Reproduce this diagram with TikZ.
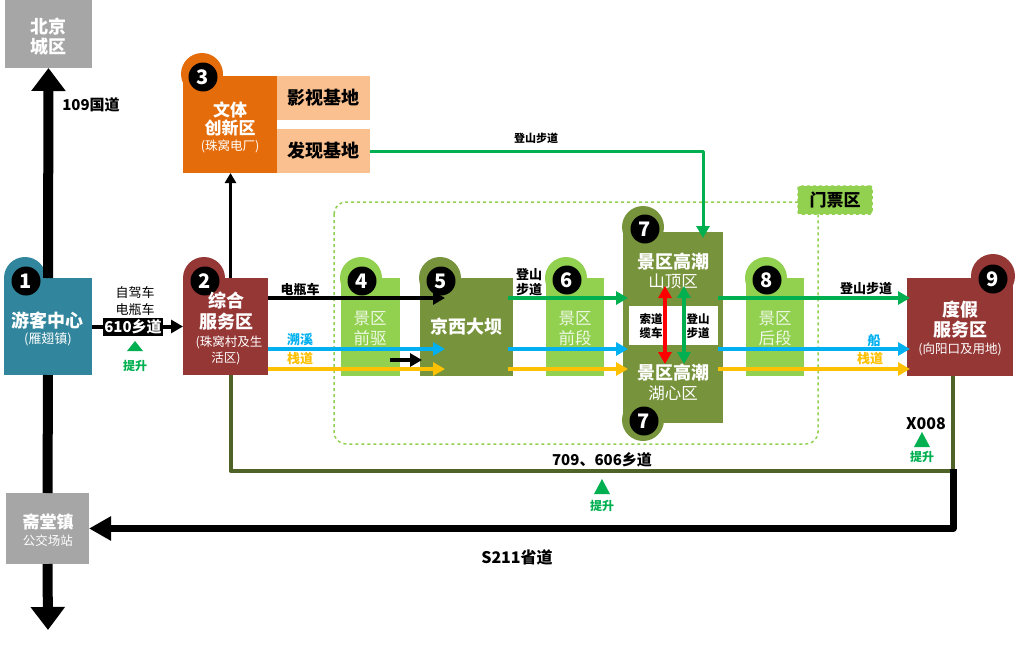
\documentclass[tikz,border=0pt]{standalone}
\usepackage{fontspec}
\setmainfont{Noto Sans CJK SC}
\usetikzlibrary{arrows.meta}
\definecolor{qteal}{HTML}{31859C}
\definecolor{qred}{HTML}{953735}
\definecolor{qorange}{HTML}{E46C0A}
\definecolor{qpeach}{HTML}{FAC090}
\definecolor{qlime}{HTML}{92D050}
\definecolor{qolive}{HTML}{77933C}
\definecolor{qdark}{HTML}{4F6228}
\definecolor{qgray}{HTML}{A6A6A6}
\definecolor{qgreen}{HTML}{00B050}
\definecolor{qblue}{HTML}{00B0F0}
\definecolor{qyellow}{HTML}{FFC000}
\begin{document}
\begin{tikzpicture}[x=1pt,y=-1pt, line join=round,
  box/.style={inner sep=0, outer sep=0},
  tt/.style={text=white, font=\bfseries\fontsize{18}{18}\selectfont},
  ts/.style={text=white, font=\fontsize{12.5}{13}\selectfont},
  tl/.style={text=white!85!qlime, font=\fontsize{16.5}{17}\selectfont},
  num/.style={circle, fill=black, text=white, inner sep=0, minimum size=29pt, font=\bfseries\fontsize{20}{20}\selectfont},
  lbl/.style={font=\bfseries\fontsize{13}{13}\selectfont},
  road/.style={line width=10pt, -{Triangle[width=33pt,length=23pt]}},
  lane/.style={line width=3.5pt, -{Triangle[width=13pt,length=12pt]}},
  up/.style={fill=qgreen}]
\useasboundingbox (0,0) rectangle (1020,656);
\def\tr{8}
% ticket zone
\draw[qlime, dashed, line width=1.5pt, rounded corners=12pt] (334,202) rectangle (818,444);
\node[box, fill=qlime, draw=qlime, dashed, line width=1.5pt, rounded corners=2pt, minimum width=74pt, minimum height=28pt, font=\bfseries\fontsize{17}{17}\selectfont] (mp) at (835,200) {门票区};

% tabs
\fill[qteal] (25,278) circle (21pt);
\fill[qred] (204,278) circle (21pt);
\fill[qorange] (202,74) circle (21pt);
\fill[qlime] (361,278) circle (21pt);
\fill[qolive] (440,278) circle (21pt);
\fill[qlime] (566,278) circle (21pt);
\fill[qolive] (643,227) circle (21pt) (643,420) circle (21pt);
\fill[qlime] (766,278) circle (21pt);
\fill[qred] (993,276) circle (22pt);

% boxes
\node[box, fill=qgray, minimum width=87pt, minimum height=68pt] (bj) at (48.5,34) {};
\node[box, fill=qgray, minimum width=83pt, minimum height=71pt] (zt) at (47.5,528.5) {};
\node[box, fill=qteal, minimum width=88pt, minimum height=97pt] (c1) at (48,326.5) {};
\node[box, fill=qred, minimum width=85pt, minimum height=97pt] (c2) at (225.5,326.5) {};
\node[box, fill=qorange, minimum width=94pt, minimum height=97pt] (c3) at (230,124.5) {};
\node[box, fill=qpeach, minimum width=93pt, minimum height=44pt, font=\bfseries\fontsize{18}{18}\selectfont] (ys) at (323.5,98) {影视基地};
\node[box, fill=qpeach, minimum width=93pt, minimum height=44pt, font=\bfseries\fontsize{18}{18}\selectfont] (fx) at (323.5,151) {发现基地};
\node[box, fill=qlime, minimum width=59pt, minimum height=98pt] (c4) at (370.5,327) {};
\node[box, fill=qolive, minimum width=93pt, minimum height=98pt] (c5) at (466.5,327) {};
\node[box, fill=qlime, minimum width=58pt, minimum height=98pt] (c6) at (575,327) {};
\node[box, fill=qolive, minimum width=100pt, minimum height=191pt] (c7) at (673,327.5) {};
\node[box, fill=white, minimum width=89pt, minimum height=39pt] (wb) at (673.5,325.5) {};
\node[box, fill=qlime, minimum width=58pt, minimum height=98pt] (c8) at (775,327) {};
\node[box, fill=qred, minimum width=106pt, minimum height=98pt] (c9) at (960,327) {};

% numbers
\node[num] (n1) at (26,281) {1};
\node[num] (n2) at (205,281) {2};
\node[num] (n3) at (203,77) {3};
\node[num] (n4) at (362,281) {4};
\node[num] (n5) at (441,281) {5};
\node[num] (n6) at (567,280) {6};
\node[num] (n7) at (645,229) {7};
\node[num] (n7b) at (644,421) {7};
\node[num] (n8) at (767,280) {8};
\node[num] (n9) at (993,279) {9};

% texts
\node[tt] (bj1) at (48,27) {北京};
\node[tt] (bj2) at (48,47) {城区};
\node[tt, font=\bfseries\fontsize{17}{17}\selectfont] (zt1) at (48,522) {斋堂镇};
\node[ts] (zt2) at (48,541) {公交场站};
\node[tt] (t1a) at (48,321) {游客中心};
\node[ts, font=\fontsize{13}{13}\selectfont] (t1b) at (48,339) {(雁翅镇)};
\node[tt] (t2a) at (226,301) {综合};
\node[tt] (t2b) at (226,322) {服务区};
\node[ts] (t2c) at (229,342) {(珠窝村及生};
\node[ts] (t2d) at (226,358) {活区)};
\node[tt, font=\bfseries\fontsize{17}{17}\selectfont] (t3a) at (230,110) {文体};
\node[tt, font=\bfseries\fontsize{17}{17}\selectfont] (t3b) at (230,128) {创新区};
\node[ts] (t3c) at (230,146) {(珠窝电厂)};
\node[tl] (t4a) at (370,319) {景区};
\node[tl] (t4b) at (370,338) {前驱};
\node[tt] (t5) at (466,327) {京西大坝};
\node[tl] (t6a) at (575,319) {景区};
\node[tl] (t6b) at (575,338) {前段};
\node[tt] (t7a) at (673,262) {景区高潮};
\node[ts, font=\fontsize{16.5}{17}\selectfont] (t7b) at (673,281) {山顶区};
\node[tt] (t7c) at (673,373) {景区高潮};
\node[ts, font=\fontsize{16.5}{17}\selectfont] (t7d) at (673,393) {湖心区};
\node[lbl, font=\bfseries\fontsize{11.5}{12}\selectfont] (w1) at (651,319) {索道};
\node[lbl, font=\bfseries\fontsize{11.5}{12}\selectfont] (w2) at (651,333) {缆车};
\node[lbl, font=\bfseries\fontsize{11.5}{12}\selectfont] (w3) at (698,319) {登山};
\node[lbl, font=\bfseries\fontsize{11.5}{12}\selectfont] (w4) at (698,333) {步道};
\node[tl] (t8a) at (775,319) {景区};
\node[tl] (t8b) at (775,338) {后段};
\node[tt] (t9a) at (960,310) {度假};
\node[tt] (t9b) at (960,330) {服务区};
\node[ts] (t9c) at (960,349) {(向阳口及用地)};

% roads
\coordinate (sd) at (48,630);
\coordinate (k2) at (953,471);
\draw[road] (c1.north) -- (bj.south);
\draw[line width=10pt] (c1.south) -- (zt.north);
\draw[road] (zt.south) -- (sd);
\draw[qdark, line width=4pt] ([xshift=5pt]c2.south) |- (k2) -- ([xshift=-7pt]c9.south);
\draw[line width=7pt, -{Triangle[width=23pt,length=22pt]}] ([yshift=2pt]k2) |- (zt.east);
\draw[line width=4pt, -{Triangle[width=13pt,length=12pt]}] (c1.east) -- (c2.west);
\draw[line width=2.5pt, -{Triangle[width=11pt,length=10pt]}] ([xshift=5pt]c2.north) -- ([xshift=5pt]c2.north |- c3.south);
\node[fill=black, text=white, inner sep=1.5pt, font=\bfseries\fontsize{15}{15}\selectfont] (r610) at (133,327) {610乡道};
\node[font=\bfseries\fontsize{15}{15}\selectfont] (r109) at (91,105) {109国道};
\node[font=\fontsize{13}{13}\selectfont] (zj) at (135,293) {自驾车};
\node[font=\fontsize{13}{13}\selectfont] (dp) at (135,310) {电瓶车};
\node[font=\bfseries\fontsize{15}{15}\selectfont] (r709) at (602,460) {709、606乡道};
\node[font=\bfseries\fontsize{16}{16}\selectfont] (rx) at (926,424) {X008};
\node[font=\bfseries\fontsize{16}{16}\selectfont] (rs) at (517,557) {S211省道};

% upgrades
\fill[up] (135,341) -- (135-\tr,351) -- (135+\tr,351) -- cycle;
\fill[up] (602,479) -- (602-\tr,494) -- (602+\tr,494) -- cycle;
\fill[up] (922,432) -- (922-\tr,447) -- (922+\tr,447) -- cycle;
\node[lbl, text=qgreen, font=\bfseries\fontsize{12}{12}\selectfont] (ts1) at (135,366) {提升};
\node[lbl, text=qgreen, font=\bfseries\fontsize{12}{12}\selectfont] (ts2) at (602,506) {提升};
\node[lbl, text=qgreen, font=\bfseries\fontsize{12}{12}\selectfont] (ts3) at (922,457) {提升};

% lanes
\coordinate (e5a) at (445,298);
\coordinate (e5b) at (445,349);
\coordinate (e5c) at (445,369);
\coordinate (sa) at (390,360);
\coordinate (e7a) at (628,298);
\coordinate (e7b) at (628,349);
\coordinate (e7c) at (628,369);
\coordinate (e9a) at (910,298);
\coordinate (e9b) at (910,349);
\coordinate (e9c) at (910,369);
\draw[lane, black] (c2.east |- e5a) -- (e5a);
\draw[lane, qblue] (c2.east |- e5b) -- (e5b);
\draw[lane, qyellow] (c2.east |- e5c) -- (e5c);
\draw[lane, black] (sa) -- ([xshift=2pt]c5.west |- sa);
\draw[lane, qgreen] ([xshift=-5pt]c5.east |- e7a) -- (e7a);
\draw[lane, qblue] ([xshift=-5pt]c5.east |- e7b) -- (e7b);
\draw[lane, qyellow] ([xshift=-5pt]c5.east |- e7c) -- (e7c);
\draw[lane, qgreen] ([xshift=-5pt]c7.east |- e9a) -- (e9a);
\draw[lane, qblue] ([xshift=-5pt]c7.east |- e9b) -- (e9b);
\draw[lane, qyellow] ([xshift=-5pt]c7.east |- e9c) -- (e9c);
\draw[lane, qgreen, line width=3pt] (fx.east) -| ([xshift=30pt,yshift=-6pt]c7.north);
\coordinate (u1) at (665,286);
\coordinate (u2) at (665,364);
\coordinate (v1) at (684,286);
\coordinate (v2) at (684,364);
\draw[red, line width=3.5pt, {Triangle[width=13pt,length=12pt]}-{Triangle[width=13pt,length=12pt]}] (u1) -- (u2);
\draw[qgreen, line width=3.5pt, {Triangle[width=13pt,length=12pt]}-{Triangle[width=13pt,length=12pt]}] (v1) -- (v2);

% lane labels
\node[lbl] (l1) at (300,289) {电瓶车};
\node[lbl, text=qblue] (l2) at (300,340) {溯溪};
\node[lbl, text=qyellow] (l3) at (300,359) {栈道};
\node[lbl] (l4) at (529,275) {登山};
\node[lbl] (l5) at (529,290) {步道};
\node[lbl] (l6) at (866,289) {登山步道};
\node[lbl, text=qblue] (l7) at (874,341) {船};
\node[lbl, text=qyellow] (l8) at (870,359) {栈道};
\node[lbl, font=\bfseries\fontsize{11}{11}\selectfont] (l9) at (536,138) {登山步道};
\end{tikzpicture}
\end{document}
